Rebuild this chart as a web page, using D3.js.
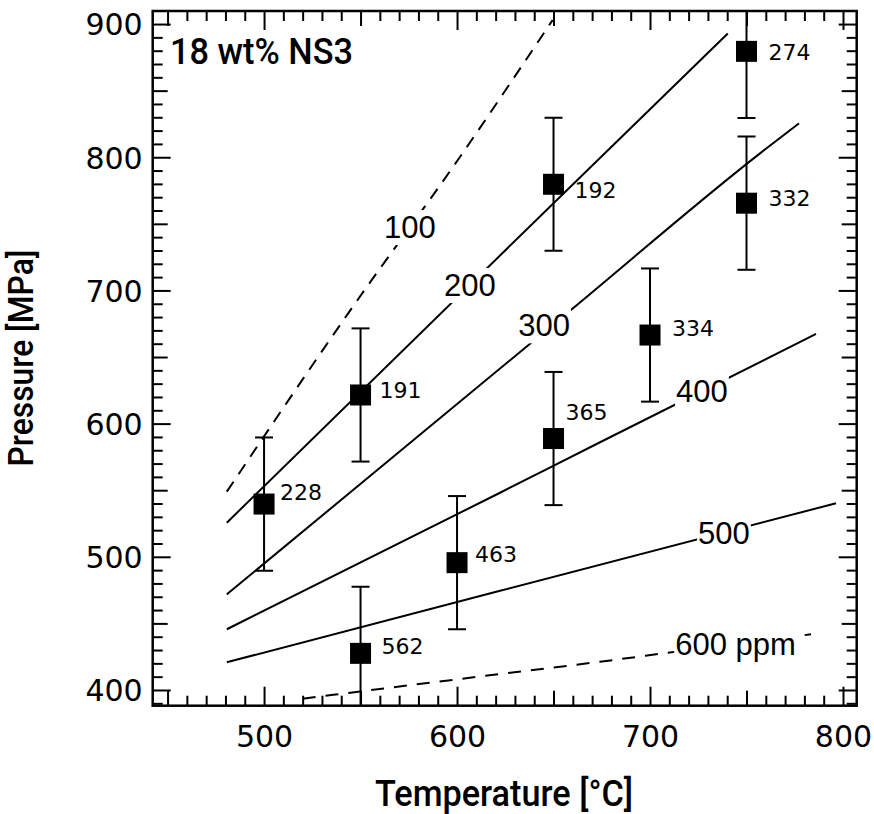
<!DOCTYPE html>
<html>
<head>
<meta charset="utf-8">
<script src="https://cdn.jsdelivr.net/npm/d3@7"></script>
<style>
  html, body { margin: 0; padding: 0; background: #fff; }
  svg { display: block; }
</style>
</head>
<body>
<svg id="chart" width="874" height="814"></svg>
<script>
// Experimental runs: temperature (°C), pressure (MPa), pressure uncertainty, measured content (ppm)
const runTemps     = [500, 550, 550, 600, 650, 650, 700, 750, 750];
const runPressures = [539.6, 621.5, 427.5, 495.6, 779.7, 588.8, 666.5, 879.5, 765.5];
const runErrors    = [50, 50, 50, 50, 50, 50, 50, 50, 50];
const runLabels    = ["228", "191", "562", "463", "192", "365", "334", "274", "332"];

// Solubility isopleths as [T, P] vertices
const iso100 = [[480.7, 548.9], [543.5, 682.6], [601.6, 800.4], [649.5, 903]];
const iso200 = [[480.7, 525.6], [650, 765.5], [740.3, 892.9]];
const iso300 = [[480.7, 471.8], [658.5, 684.7], [757, 802.9], [777.2, 825.4]];
const iso400 = [[480.7, 445.6], [622.3, 548.1], [674.1, 586], [786, 667.3]];
const iso500 = [[480.7, 420.8], [622.3, 474.5], [796.4, 540.2]];
const iso600 = [[520, 393.5], [622.3, 412], [674.1, 421.2], [713.8, 428.8], [783.4, 441.8]];
const isoNames  = ["100", "200", "300", "400", "500", "600 ppm"];
const isoLabelT = [575.6, 606.7, 645.1, 726.9, 738.3, 744.3];

// Axis tick values
const xLabelTicks = [500, 600, 700, 800];
const yLabelTicks = [400, 500, 600, 700, 800, 900];

const panelTitle = "18 wt% NS3";
const xTitle = "Temperature [°C]";
const yTitle = "Pressure [MPa]";

// ---- layout & styling ----
const box = { left: 152.7, right: 856.7, top: 11, bottom: 705.7 };
const isoCurves = [iso100, iso200, iso300, iso400, iso500, iso600];
const isoDash   = ["12,9", null, null, null, null, "13,10"];
const isoLabelDy = [0, 0, -7, 0, 0, 0];
// label placement relative to each marker centre: [dx, dy] in px
const runLabelShift = [[16, -12], [19, -5], [21, -7], [18, -9], [21, 6], [12, -26], [22, -7], [22, 1], [22, -5]];

const svg = d3.select("#chart");

const x = d3.scaleLinear().domain([442.3, 807.1]).range([box.left, box.right]);
const y = d3.scaleLinear().domain([388.2, 909.8]).range([box.bottom, box.top]);

svg.append("defs").append("clipPath").attr("id", "plotClip")
  .append("rect")
  .attr("x", box.left).attr("y", box.top)
  .attr("width", box.right - box.left).attr("height", box.bottom - box.top);

const plot = svg.append("g").attr("clip-path", "url(#plotClip)");

// isopleth lines
const line = d3.line().x(d => x(d[0])).y(d => y(d[1])).curve(d3.curveMonotoneX);
isoCurves.forEach((pts, i) => {
  plot.append("path")
    .attr("d", line(pts))
    .attr("fill", "none")
    .attr("stroke", "#000")
    .attr("stroke-width", 2)
    .attr("stroke-dasharray", isoDash[i]);
});

// pressure on an isopleth at temperature t (for placing its label)
function pressureAt(pts, t) {
  for (let k = 0; k < pts.length - 1; k++) {
    const a = pts[k], b = pts[k + 1];
    if (t >= a[0] && t <= b[0]) return a[1] + (b[1] - a[1]) * (t - a[0]) / (b[0] - a[0]);
  }
  return pts[pts.length - 1][1];
}

// isopleth labels on a white patch that interrupts the line
isoCurves.forEach((pts, i) => {
  const t = isoLabelT[i];
  const g = plot.append("g");
  const txt = g.append("text")
    .attr("x", x(t))
    .attr("y", y(pressureAt(pts, t)) + isoLabelDy[i])
    .attr("dy", "0.36em")
    .attr("text-anchor", "middle")
    .attr("font-family", "'Liberation Sans', Arial, sans-serif")
    .attr("font-size", 31)
    .attr("fill", "#000")
    .text(isoNames[i]);
  const bb = txt.node().getBBox();
  g.insert("rect", "text")
    .attr("x", bb.x - 1).attr("y", bb.y)
    .attr("width", bb.width + 2).attr("height", bb.height)
    .attr("fill", "#fff");
});

// error bars
const capHalf = 9;
const runs = runTemps.map((t, i) => ({ t, p: runPressures[i], e: runErrors[i], label: runLabels[i], shift: runLabelShift[i] }));
const eb = plot.append("g").attr("stroke", "#000").attr("stroke-width", 2);
runs.forEach(d => {
  const cx = x(d.t);
  eb.append("line").attr("x1", cx).attr("x2", cx).attr("y1", y(d.p - d.e)).attr("y2", y(d.p + d.e));
  eb.append("line").attr("x1", cx - capHalf).attr("x2", cx + capHalf).attr("y1", y(d.p + d.e)).attr("y2", y(d.p + d.e));
  eb.append("line").attr("x1", cx - capHalf).attr("x2", cx + capHalf).attr("y1", y(d.p - d.e)).attr("y2", y(d.p - d.e));
});

// square markers
const sq = 21;
plot.append("g").selectAll("rect").data(runs).join("rect")
  .attr("x", d => x(d.t) - sq / 2)
  .attr("y", d => y(d.p) - sq / 2)
  .attr("width", sq).attr("height", sq)
  .attr("fill", "#000");

// marker labels
svg.append("g").selectAll("text").data(runs).join("text")
  .attr("x", d => x(d.t) + d.shift[0])
  .attr("y", d => y(d.p) + d.shift[1])
  .attr("dy", "0.36em")
  .attr("font-family", "'DejaVu Sans', Verdana, sans-serif")
  .attr("font-size", 22)
  .attr("fill", "#000")
  .text(d => d.label);

// ---- axes: inward ticks on all four sides ----
const xMid = d3.range(450, 801, 100);
const xMinor = d3.range(450, 801, 10).filter(v => v % 50 !== 0);
const yMid = d3.range(450, 901, 100);
const yMinor = d3.range(390, 901, 10).filter(v => v % 50 !== 0);

function drawAxis(axisGen, transform, values, size, labelled, pad) {
  const g = svg.append("g")
    .attr("transform", transform)
    .call(axisGen
      .tickValues(values)
      .tickSizeInner(-size)
      .tickSizeOuter(0)
      .tickPadding(pad || 0)
      .tickFormat(labelled ? d3.format("d") : ""));
  g.select(".domain").remove();
  g.selectAll(".tick line").attr("stroke", "#000").attr("stroke-width", 2);
  g.selectAll("text")
    .attr("font-family", "'DejaVu Sans', Verdana, sans-serif")
    .attr("font-size", 30)
    .attr("fill", "#000");
  return g;
}

const B = `translate(0,${box.bottom})`, T = `translate(0,${box.top})`;
const L = `translate(${box.left},0)`, R = `translate(${box.right},0)`;

drawAxis(d3.axisBottom(x), B, xLabelTicks, 19, true, 20);
drawAxis(d3.axisBottom(x), B, xMid, 15, false);
drawAxis(d3.axisBottom(x), B, xMinor, 10, false);
drawAxis(d3.axisTop(x), T, xLabelTicks, 19, false);
drawAxis(d3.axisTop(x), T, xMid, 15, false);
drawAxis(d3.axisTop(x), T, xMinor, 10, false);

const yl = drawAxis(d3.axisLeft(y), L, yLabelTicks, 18, true, 10);
yl.selectAll("text").attr("dy", "0.36em");
drawAxis(d3.axisLeft(y), L, yMid, 15, false);
drawAxis(d3.axisLeft(y), L, yMinor, 10, false);
drawAxis(d3.axisRight(y), R, yLabelTicks, 18, false);
drawAxis(d3.axisRight(y), R, yMid, 15, false);
drawAxis(d3.axisRight(y), R, yMinor, 10, false);

// frame
svg.append("rect")
  .attr("x", box.left).attr("y", box.top)
  .attr("width", box.right - box.left).attr("height", box.bottom - box.top)
  .attr("fill", "none").attr("stroke", "#000").attr("stroke-width", 2.5);

// titles
const titleFont = "Roboto, 'Open Sans', sans-serif";
svg.append("text")
  .attr("x", 170).attr("y", 64)
  .attr("font-family", titleFont).attr("font-weight", 500).attr("font-size", 36)
  .attr("textLength", 183).attr("lengthAdjust", "spacingAndGlyphs")
  .attr("fill", "#000")
  .text(panelTitle);

svg.append("text")
  .attr("x", 504).attr("y", 806)
  .attr("text-anchor", "middle")
  .attr("font-family", titleFont).attr("font-weight", 500).attr("font-size", 36)
  .attr("textLength", 258).attr("lengthAdjust", "spacingAndGlyphs")
  .attr("fill", "#000")
  .text(xTitle);

svg.append("text")
  .attr("transform", "translate(33,358) rotate(-90)")
  .attr("text-anchor", "middle")
  .attr("font-family", titleFont).attr("font-weight", 500).attr("font-size", 35)
  .attr("textLength", 217).attr("lengthAdjust", "spacingAndGlyphs")
  .attr("fill", "#000")
  .text(yTitle);
</script>
</body>
</html>
